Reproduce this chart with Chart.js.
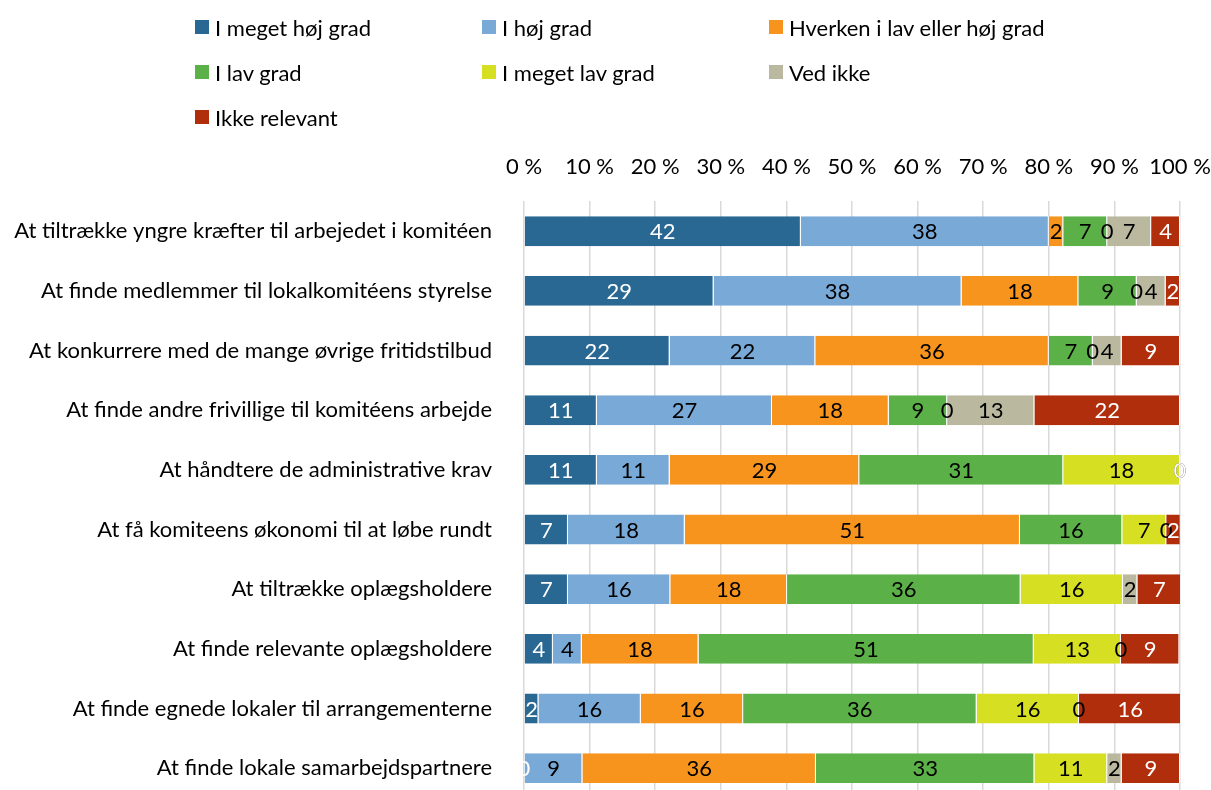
<!DOCTYPE html>
<html>
<head>
<meta charset="utf-8">
<script src="https://cdn.jsdelivr.net/npm/chart.js@4/dist/chart.umd.min.js"></script>
<style>
  html, body { margin: 0; padding: 0; background: #fff; overflow: hidden; }
  #wrap { position: relative; width: 1211px; height: 800px; }
  #chart { display: block; }
  #legend { position: absolute; left: 0; top: 0; width: 1211px; height: 140px; font-family: Lato, sans-serif; font-size: 22px; color: #000; }
  .item { position: absolute; display: flex; align-items: center; white-space: nowrap; }
  .box { width: 14px; height: 14px; margin-right: 6px; }
</style>
</head>
<body>
<div id="wrap">
  <canvas id="chart" width="1211" height="800"></canvas>
  <div id="legend"></div>
</div>
<script>
// kategorier (øverst til nederst)
const categories = [
  'At tiltrække yngre kræfter til arbejedet i komitéen',
  'At finde medlemmer til lokalkomitéens styrelse',
  'At konkurrere med de mange øvrige fritidstilbud',
  'At finde andre frivillige til komitéens arbejde',
  'At håndtere de administrative krav',
  'At få komiteens økonomi til at løbe rundt',
  'At tiltrække oplægsholdere',
  'At finde relevante oplægsholdere',
  'At finde egnede lokaler til arrangementerne',
  'At finde lokale samarbejdspartnere'
];

const seriesNames = ['I meget høj grad', 'I høj grad', 'Hverken i lav eller høj grad', 'I lav grad', 'I meget lav grad', 'Ved ikke', 'Ikke relevant'];
const seriesColors = ['#2a6894', '#79a9d6', '#f7941e', '#5bb147', '#d6df22', '#bab9a0', '#b02e0c'];
const labelColors = ['#fff', '#000', '#000', '#000', '#000', '#000', '#fff'];

// procent pr. svar
const meget_hoej = [42.2, 28.9, 22.2, 11.1, 11.1, 6.7, 6.7, 4.4, 2.2, 0];
const hoej       = [37.8, 37.8, 22.2, 26.7, 11.1, 17.8, 15.6, 4.4, 15.6, 8.9];
const hverken    = [2.2, 17.8, 35.6, 17.8, 28.9, 51.1, 17.8, 17.8, 15.6, 35.6];
const lav        = [6.7, 8.9, 6.7, 8.9, 31.1, 15.6, 35.6, 51.1, 35.6, 33.3];
const meget_lav  = [0, 0, 0, 0, 17.8, 6.7, 15.6, 13.3, 15.6, 11.1];
const ved_ikke   = [6.7, 4.4, 4.4, 13.3, 0, 0, 2.2, 0, 0, 2.2];
const ikke_rel   = [4.4, 2.2, 8.9, 22.2, 0, 2.2, 6.7, 8.9, 15.6, 8.9];

const xTicks = [0, 10, 20, 30, 40, 50, 60, 70, 80, 90, 100];

const allSeries = [meget_hoej, hoej, hverken, lav, meget_lav, ved_ikke, ikke_rel];

// legend i 3 kolonner
const legendCols = [195, 482, 769];
const legendRows = [27, 72, 117];
const legendEl = document.getElementById('legend');
seriesNames.forEach((name, i) => {
  const it = document.createElement('div');
  it.className = 'item';
  it.style.left = legendCols[i % 3] + 'px';
  it.style.top = (legendRows[Math.floor(i / 3)] - 13) + 'px';
  it.style.height = '26px';
  it.innerHTML = '<span class="box" style="background:' + seriesColors[i] + '"></span>' + name;
  legendEl.appendChild(it);
});

const font = { family: 'Lato, sans-serif', size: 22 };

const valueLabels = {
  id: 'valueLabels',
  afterDatasetsDraw(chart) {
    const ctx = chart.ctx;
    ctx.save();
    ctx.font = '22px Lato, sans-serif';
    ctx.textAlign = 'center';
    ctx.textBaseline = 'middle';
    chart.data.datasets.forEach((ds, di) => {
      const meta = chart.getDatasetMeta(di);
      meta.data.forEach((bar, i) => {
        const v = ds.data[i];
        ctx.fillStyle = labelColors[di];
        ctx.fillText(Math.round(v), (bar.x + bar.base) / 2, bar.y + 1);
      });
    });
    ctx.restore();
  }
};

new Chart(document.getElementById('chart'), {
  type: 'bar',
  data: {
    labels: categories,
    datasets: allSeries.map((d, i) => ({
      label: seriesNames[i],
      data: d,
      backgroundColor: seriesColors[i],
      borderColor: '#fff',
      borderWidth: { left: 0, right: 1, top: 0, bottom: 0 },
      borderSkipped: false,
      categoryPercentage: 0.5,
      barPercentage: 1
    }))
  },
  options: {
    indexAxis: 'y',
    responsive: false,
    animation: false,
    layout: { padding: { top: 133, right: 31, bottom: 2, left: 0 } },
    plugins: { legend: { display: false }, tooltip: { enabled: false } },
    scales: {
      x: {
        position: 'top',
        stacked: true,
        min: 0,
        max: 100,
        afterBuildTicks(scale) { scale.ticks = xTicks.map(v => ({ value: v })); },
        afterFit(scale) { scale.paddingLeft = 0; scale.paddingRight = 0; },
        ticks: { font: font, color: '#000', padding: 21, maxRotation: 0, minRotation: 0, autoSkip: false, callback: v => v + ' %' },
        grid: { color: '#d9d9d9', lineWidth: 1.5, drawTicks: false },
        border: { display: false }
      },
      y: {
        stacked: true,
        afterFit(scale) { scale.width = 524; scale.paddingTop = 0; scale.paddingBottom = 0; },
        ticks: { font: font, color: '#000', padding: 24 },
        grid: { display: false },
        border: { display: false }
      }
    }
  },
  plugins: [valueLabels]
});
</script>
</body>
</html>
